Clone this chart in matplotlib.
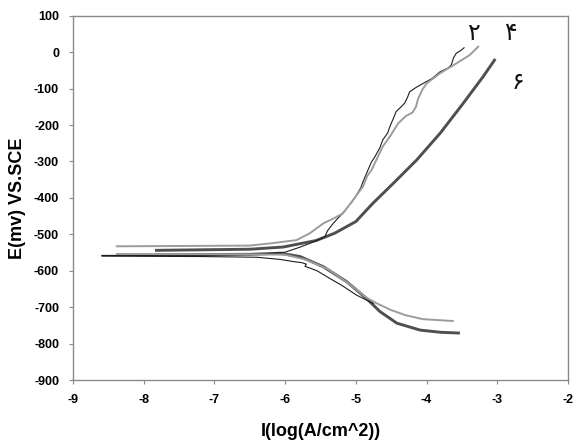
import matplotlib
matplotlib.use('Agg')
import matplotlib.pyplot as plt
import numpy as np

nan = np.nan

# curve 2 - thin black (cathodic end -> Ecorr spike -> anodic end)
x_black = [-4.75, -4.99, -5.20, -5.37, -5.55, -5.66, -5.72, -5.70, -5.76, -5.88, -6.07, -6.4, -7.2, -8.59,
           nan, -8.59, -7.1, -6.3, -6.0, -5.8, -5.6, -5.44, -5.40, -5.32, -5.25, -5.2, -5.11, -5.05, -4.99,
           -4.93, -4.90, -4.86, -4.83, -4.78, -4.73, -4.66, -4.62, -4.55, -4.52, -4.47, -4.43, -4.36, -4.31,
           -4.27, -4.24, -4.15, -4.05, -3.92, -3.81, -3.70, -3.65, -3.62, -3.58, -3.52, -3.47]
y_black = [-690, -667, -640, -621, -600, -592, -588, -582, -578, -575, -569, -563, -561, -560,
           nan, -558, -558, -554, -549, -536, -521, -507, -490, -470, -455, -445, -424, -410, -392,
           -372, -356, -338, -324, -302, -287, -262, -241, -222, -205, -182, -163, -150, -140,
           -124, -109, -97, -86, -72, -54, -44, -35, -16, -3, 4, 12]

# curve 4 - light gray
x_gray = [-3.63, -4.05, -4.30, -4.50, -4.70, -4.85, -5.10, -5.40, -5.70, -6.00, -6.5, -8.38,
          nan, -8.38, -6.5, -6.21, -5.84, -5.65, -5.46, -5.30, -5.18, -5.04, -4.90, -4.84, -4.78,
          -4.71, -4.62, -4.52, -4.40, -4.29, -4.20, -4.15, -4.12, -4.06, -4.0, -3.81, -3.58, -3.39, -3.27]
y_gray = [-738, -733, -722, -708, -690, -674, -635, -595, -570, -556, -555, -554,
          nan, -533, -531, -525, -516, -497, -470, -455, -442, -406, -369, -340, -324,
          -296, -259, -232, -195, -175, -166, -150, -128, -103, -86, -58, -31, -8, 15]

# curve 6 - dark gray thick
x_dark = [-3.55, -3.8, -4.09, -4.42, -4.66, -4.85, -5.13, -5.46, -5.79, -6.07, -6.5, -7.82,
          nan, -7.82, -6.5, -6.03, -5.56, -5.30, -5.0, -4.76, -4.47, -4.14, -3.81, -3.48, -3.20, -3.04]
y_dark = [-771, -769, -763, -744, -712, -676, -630, -589, -561, -552, -555, -556,
          nan, -544, -541, -535, -517, -497, -465, -415, -360, -296, -223, -140, -67, -22]

labels = ['۲', '۴', '۶']
label_x = [-3.34, -2.82, -2.71]
label_y = [52, 52, -81]

xticks = [-9, -8, -7, -6, -5, -4, -3, -2]
yticks = list(range(-900, 101, 100))

fig = plt.figure(figsize=(5.73, 4.44), dpi=100)
ax = fig.add_axes([0.1274, 0.1441, 0.8639, 0.8205])

ax.plot(x_black, y_black, color='#1e1e1e', lw=0.8, zorder=2)
ax.plot(x_gray, y_gray, color='#9c9c9c', lw=1.4, zorder=3)
ax.plot(x_dark, y_dark, color='#4f4f4f', lw=2.1, zorder=1)

for t, lx, ly in zip(labels, label_x, label_y):
    ax.text(lx, ly, t, fontsize=17, ha='center', va='center', color='#111111',
            family=['DejaVu Sans', 'Noto Sans'])

ax.set_xlim(-9, -2)
ax.set_ylim(-900, 100)
ax.set_xticks(xticks)
ax.set_yticks(yticks)
ax.set_xticklabels([str(v) for v in xticks], fontsize=9, fontweight='bold', family='Liberation Sans')
ax.set_yticklabels([str(v) for v in yticks], fontsize=9, fontweight='bold', family='Liberation Sans')
ax.tick_params(direction='out', length=3, color='#888888', width=0.8, pad=7)
for s in ax.spines.values():
    s.set_color('#8a8a8a')
    s.set_linewidth(1.0)

ax.set_xlabel('I(log(A/cm^2))', fontsize=13, fontweight='bold', family='Liberation Sans', labelpad=12)
ax.set_ylabel('E(mv) VS.SCE', fontsize=13, fontweight='bold', family='Liberation Sans', labelpad=6)

fig.savefig('out.png', dpi=100)
